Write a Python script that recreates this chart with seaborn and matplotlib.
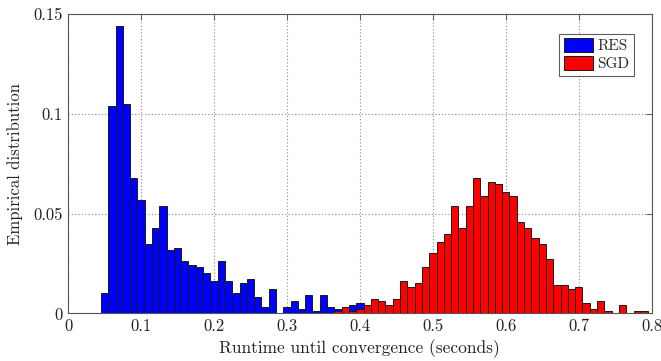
import numpy as np
import pandas as pd
import matplotlib
matplotlib.use("Agg")
import matplotlib.pyplot as plt
import seaborn as sns

# bin centers (width 0.01) and empirical distribution heights
res_centers = [0.05, 0.06, 0.07, 0.08, 0.09, 0.10, 0.11, 0.12, 0.13, 0.14,
               0.15, 0.16, 0.17, 0.18, 0.19, 0.20, 0.21, 0.22, 0.23, 0.24,
               0.25, 0.26, 0.27, 0.28, 0.29, 0.30, 0.31, 0.32, 0.33, 0.34,
               0.35, 0.36, 0.37, 0.38, 0.39, 0.40]
res_heights = [0.010, 0.104, 0.144, 0.105, 0.068, 0.057, 0.035, 0.043, 0.054, 0.032,
               0.033, 0.026, 0.024, 0.023, 0.020, 0.016, 0.026, 0.016, 0.010, 0.015,
               0.017, 0.008, 0.003, 0.012, 0.000, 0.003, 0.006, 0.002, 0.009, 0.001,
               0.009, 0.003, 0.002, 0.002, 0.004, 0.005]

sgd_centers = [0.37, 0.38, 0.39, 0.40, 0.41, 0.42, 0.43, 0.44, 0.45, 0.46,
               0.47, 0.48, 0.49, 0.50, 0.51, 0.52, 0.53, 0.54, 0.55, 0.56,
               0.57, 0.58, 0.59, 0.60, 0.61, 0.62, 0.63, 0.64, 0.65, 0.66,
               0.67, 0.68, 0.69, 0.70, 0.71, 0.72, 0.73, 0.74, 0.75, 0.76,
               0.77, 0.78, 0.79]
sgd_heights = [0.001, 0.003, 0.001, 0.002, 0.004, 0.007, 0.006, 0.004, 0.007, 0.016,
               0.013, 0.015, 0.023, 0.030, 0.036, 0.040, 0.054, 0.043, 0.054, 0.068,
               0.059, 0.066, 0.065, 0.061, 0.059, 0.046, 0.043, 0.038, 0.035, 0.027,
               0.014, 0.014, 0.012, 0.013, 0.005, 0.002, 0.006, 0.001, 0.000, 0.004,
               0.000, 0.001, 0.001]

x_ticks = [0, 0.1, 0.2, 0.3, 0.4, 0.5, 0.6, 0.7, 0.8]
x_ticklabels = ["0", "0.1", "0.2", "0.3", "0.4", "0.5", "0.6", "0.7", "0.8"]
y_ticks = [0, 0.05, 0.1, 0.15]
y_ticklabels = ["0", "0.05", "0.1", "0.15"]

res = pd.DataFrame({"t": res_centers, "h": res_heights})
sgd = pd.DataFrame({"t": sgd_centers, "h": sgd_heights})
edges = [round(0.045 + 0.01 * i, 3) for i in range(76)]

sns.set_style("white")
plt.rcParams["font.family"] = ["cmr10", "DejaVu Serif"]
plt.rcParams["axes.formatter.use_mathtext"] = True

fig = plt.figure(figsize=(6.61, 3.61), dpi=100)
ax = fig.add_axes([0.103, 0.132, 0.883, 0.829])

sns.histplot(x=res["t"], weights=res["h"], bins=edges, stat="count",
             color="#0000ff", edgecolor="#1a1a1a", linewidth=0.7, alpha=1,
             label="RES", ax=ax, zorder=2)
sns.histplot(x=sgd["t"], weights=sgd["h"], bins=edges, stat="count",
             color="#ff0000", edgecolor="#1a1a1a", linewidth=0.7, alpha=1,
             label="SGD", ax=ax, zorder=3)

ax.set_xlim(0, 0.8)
ax.set_ylim(0, 0.15)
ax.set_xticks(x_ticks)
ax.set_xticklabels(x_ticklabels)
ax.set_yticks(y_ticks)
ax.set_yticklabels(y_ticklabels)
ax.grid(True, linestyle=(0, (1, 2)), color="#888888", linewidth=0.8, zorder=0)
ax.set_axisbelow(True)
ax.tick_params(direction="in", length=4, width=0.6, labelsize=12, pad=4,
               top=True, right=True, colors="#444444", labelcolor="#222222")
for s in ax.spines.values():
    s.set_color("#555555")
    s.set_linewidth(0.8)

ax.set_xlabel("Runtime until convergence (seconds)", fontsize=12.5, color="#222222", labelpad=4)
ax.set_ylabel("Empirical distribution", fontsize=12, color="#222222", labelpad=7)

leg = ax.legend(loc="upper right", bbox_to_anchor=(0.97, 0.935), fontsize=11,
                fancybox=False, frameon=True, borderpad=0.3, handlelength=1.9,
                handleheight=1.0, handletextpad=0.3, labelspacing=0.2, borderaxespad=0)
leg.get_frame().set_edgecolor("#333333")
leg.get_frame().set_linewidth(0.8)

fig.savefig("out.png", dpi=100)
